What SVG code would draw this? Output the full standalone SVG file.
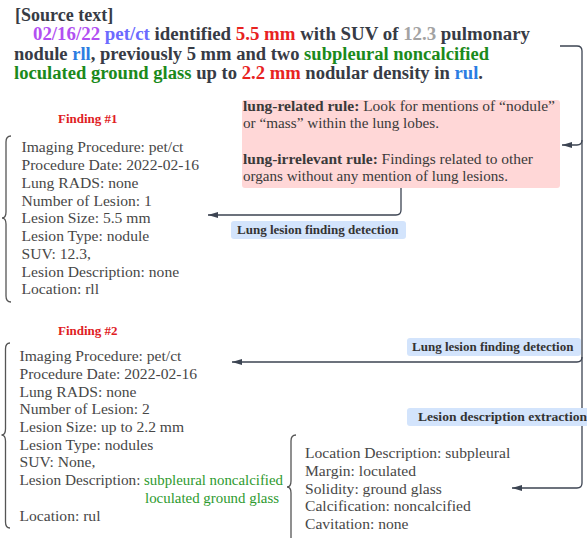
<svg xmlns="http://www.w3.org/2000/svg" width="587" height="538" viewBox="0 0 587 538">
<defs>
<marker id="arr" viewBox="0 0 10 6" refX="10" refY="3" markerWidth="10" markerHeight="6" orient="auto" markerUnits="userSpaceOnUse"><path d="M0,0 L10,3 L0,6 z" fill="#3c4452"/></marker>
<style>
.src{font-family:"Liberation Serif",serif;font-weight:bold;font-size:18px;fill:#373b45}
.pur{fill:#b24ff2}.vio{fill:#6b6bff}.red{fill:#e8231f}.gry{fill:#a3a3a3}.blu{fill:#2b7de2}.grn{fill:#1b8a1b}
.lst{font-family:"Liberation Serif",serif;font-size:15.6px;fill:#474747}
.g2{fill:#2e9a2e}
.hd{font-family:"Liberation Serif",serif;font-weight:bold;font-size:13px;fill:#e0201f}
.lbl{font-family:"Liberation Serif",serif;font-weight:bold;font-size:13px;fill:#333}
.lblbox{fill:#d3e4fc}
.rule{font-family:"Liberation Serif",serif;font-size:15px;fill:#3a3a3a}
.b{font-weight:bold}
.brace{fill:none;stroke:#555;stroke-width:1.3}
.conn{fill:none;stroke:#3c4452;stroke-width:1.3}
.ah{marker-end:url(#arr)}
</style>
</defs>

<g id="source-text">
<text class="src" x="15" y="21">[Source text]</text>
<text class="src" x="33" y="40" textLength="497" lengthAdjust="spacingAndGlyphs"><tspan class="pur">02/16/22</tspan> <tspan class="vio">pet/ct</tspan> identified <tspan class="red">5.5 mm</tspan> with SUV of <tspan class="gry">12.3</tspan> pulmonary</text>
<text class="src" x="14" y="60" textLength="475" lengthAdjust="spacingAndGlyphs">nodule <tspan class="blu">rll</tspan>, previously 5 mm and two <tspan class="grn">subpleural noncalcified</tspan></text>
<text class="src" x="14" y="79" textLength="469" lengthAdjust="spacingAndGlyphs"><tspan class="grn">loculated ground glass</tspan> up to <tspan class="red">2.2 mm</tspan> nodular density in <tspan class="blu">rul</tspan>.</text>
</g>

<g id="rules">
<rect x="242" y="100" width="318" height="88" rx="3" fill="#ffd7d7"/>
<text class="rule" x="243" y="111" textLength="312" lengthAdjust="spacingAndGlyphs"><tspan class="b">lung-related rule:</tspan> Look for mentions of “nodule”</text>
<text class="rule" x="243" y="128" textLength="196" lengthAdjust="spacingAndGlyphs">or “mass” within the lung lobes.</text>
<text class="rule" x="243" y="164" textLength="290" lengthAdjust="spacingAndGlyphs"><tspan class="b">lung-irrelevant rule:</tspan> Findings related to other</text>
<text class="rule" x="243" y="181" textLength="265" lengthAdjust="spacingAndGlyphs">organs without any mention of lung lesions.</text>
</g>

<g id="finding1">
<text class="hd" x="58" y="123">Finding #1</text>
<path class="brace" d="M11,136 Q6,136 6,142 V212 Q6,218 2,218 Q6,218 6,224 V296 Q6,302 11,302"/>
<text class="lst" x="21.5" y="152.3">Imaging Procedure: pet/ct</text>
<text class="lst" x="21.5" y="170">Procedure Date: 2022-02-16</text>
<text class="lst" x="21.5" y="187.8">Lung RADS: none</text>
<text class="lst" x="21.5" y="205.5">Number of Lesion: 1</text>
<text class="lst" x="21.5" y="223.3">Lesion Size: 5.5 mm</text>
<text class="lst" x="21.5" y="241">Lesion Type: nodule</text>
<text class="lst" x="21.5" y="258.8">SUV: 12.3,</text>
<text class="lst" x="21.5" y="276.5">Lesion Description: none</text>
<text class="lst" x="21.5" y="294.3">Location: rll</text>
</g>

<g id="finding2">
<text class="hd" x="58" y="335">Finding #2</text>
<path class="brace" d="M10,343 Q5.5,343 5.5,349 V429 Q5.5,435 1.5,435 Q5.5,435 5.5,441 V522 Q5.5,528 10,528"/>
<text class="lst" x="19.5" y="361">Imaging Procedure: pet/ct</text>
<text class="lst" x="19.5" y="378.7">Procedure Date: 2022-02-16</text>
<text class="lst" x="19.5" y="396.5">Lung RADS: none</text>
<text class="lst" x="19.5" y="414.2">Number of Lesion: 2</text>
<text class="lst" x="19.5" y="432">Lesion Size: up to 2.2 mm</text>
<text class="lst" x="19.5" y="449.7">Lesion Type: nodules</text>
<text class="lst" x="19.5" y="467.4">SUV: None,</text>
<text class="lst" x="19.5" y="485.2" textLength="121" lengthAdjust="spacingAndGlyphs">Lesion Description:</text>
<text class="lst g2" x="144" y="485.2" font-size="15" textLength="139" lengthAdjust="spacingAndGlyphs">subpleural noncalcified</text>
<text class="lst g2" x="145" y="503" font-size="15" textLength="134" lengthAdjust="spacingAndGlyphs">loculated ground glass</text>
<text class="lst" x="19.5" y="520.7">Location: rul</text>
</g>

<g id="lesion-description">
<path class="brace" d="M296,435 Q291,435 291,441 V481 Q291,487 287,487 Q291,487 291,493 V545"/>
<text class="lst" x="305" y="458">Location Description: subpleural</text>
<text class="lst" x="305" y="475.8">Margin: loculated</text>
<text class="lst" x="305" y="493.5">Solidity: ground glass</text>
<text class="lst" x="305" y="511.3">Calcification: noncalcified</text>
<text class="lst" x="305" y="529">Cavitation: none</text>
</g>

<g id="connectors">
<path class="conn ah" d="M560,46 H577 Q582,46 582,51 V483 Q582,488 577,488 H512"/>
<path class="conn ah" d="M582,140 Q582,145 577,145 H562"/>
<path class="conn ah" d="M582,357 Q582,362 577,362 H232"/>
<path class="conn ah" d="M401,188 V210 Q401,215 396,215 H208"/>
</g>

<g id="labels">
<g id="label-detection-1">
<rect class="lblbox" x="231" y="221" width="175" height="18" rx="3"/>
<text class="lbl" x="237" y="234">Lung lesion finding detection</text>
</g>
<g id="label-detection-2">
<rect class="lblbox" x="407" y="338" width="174" height="18" rx="3"/>
<text class="lbl" x="412" y="351">Lung lesion finding detection</text>
</g>
<g id="label-extraction">
<rect class="lblbox" x="407" y="408" width="184" height="18" rx="3"/>
<text class="lbl" x="418" y="421" textLength="169" lengthAdjust="spacingAndGlyphs">Lesion description extraction</text>
</g>
</g>
</svg>
